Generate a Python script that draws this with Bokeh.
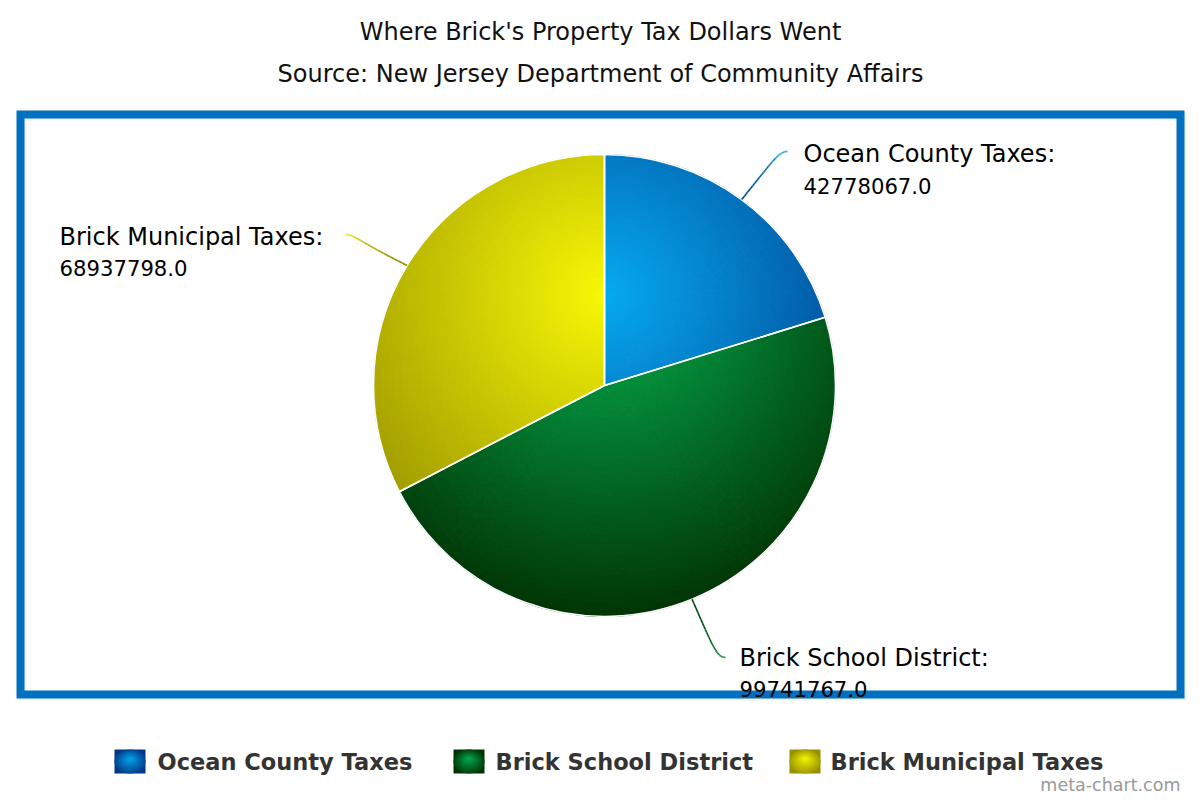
import math
import numpy as np
from bokeh.plotting import figure
from bokeh.models import Range1d
from bokeh.core.properties import value
from bokeh.embed import file_html
from bokeh.resources import INLINE

# ---------------- data ----------------
title_text = "Where Brick's Property Tax Dollars Went"
subtitle_text = "Source: New Jersey Department of Community Affairs"
categories = ["Ocean County Taxes", "Brick School District", "Brick Municipal Taxes"]
amounts = [42778067.0, 99741767.0, 68937798.0]
credit_text = "meta-chart.com"

# ---------------- styles ----------------
light_stops = [(5, 170, 240), (4, 176, 80), (248, 248, 5)]
dark_stops = [(0, 55, 135), (0, 52, 4), (150, 145, 0)]
FONT = value("DejaVu Sans")


def sy(y):
    """screen y (px from top of page) -> data y"""
    return 800 - y


def hexc(c):
    return "#%02x%02x%02x" % tuple(int(round(max(0, min(255, v)))) for v in c)


def lerp(a, b, t):
    return tuple(a[k] + (b[k] - a[k]) * t for k in range(3))


p = figure(width=1200, height=800, x_range=Range1d(0, 1200), y_range=Range1d(0, 800),
           output_backend="svg", toolbar_location=None, min_border=0,
           x_axis_location=None, y_axis_location=None)
p.grid.visible = False
p.outline_line_color = None
p.background_fill_color = "white"
p.border_fill_color = "white"

# ---------------- frame border ----------------
p.quad(left=[22], right=[1182], top=[sy(116)], bottom=[sy(696)], fill_color=None,
       line_color="#000000", line_alpha=0.06, line_width=8, line_join="miter")
p.quad(left=[20], right=[1180], top=[sy(114)], bottom=[sy(694)], fill_color=None,
       line_color="#0070C0", line_width=8, line_join="miter")

# ---------------- titles ----------------
p.text(x=[600], y=[sy(31)], text=[title_text], text_align="center", text_baseline="middle",
       text_font=FONT, text_font_size=value("24px"), text_color="#111111")
p.text(x=[600], y=[sy(73)], text=[subtitle_text], text_align="center", text_baseline="middle",
       text_font=FONT, text_font_size=value("24px"), text_color="#111111")

# ---------------- pie ----------------
cx, cy, R = 604.0, sy(385), 231.0
gx, gy = cx, cy + R - 0.3 * 2 * R  # radial gradient centre
grad_r = 0.7 * 2 * R

total = float(sum(amounts))
cum = np.concatenate([[0.0], np.cumsum(amounts)]) / total
bounds = math.pi / 2 - 2 * math.pi * cum  # clockwise from 12 o'clock

xs, ys, r0s, r1s, a0s, a1s, cols = [], [], [], [], [], [], []
n_r = 34
radii = np.linspace(0, R, n_r + 1)
for i in range(len(amounts)):
    a_start, a_end = bounds[i + 1], bounds[i]
    n_a = max(2, int(math.ceil((a_end - a_start) / math.radians(2.4))))
    angs = np.linspace(a_start, a_end, n_a + 1)
    for j in range(n_r):
        for k in range(n_a):
            rc = 0.5 * (radii[j] + radii[j + 1])
            ac = 0.5 * (angs[k] + angs[k + 1])
            px, py = cx + rc * math.cos(ac), cy + rc * math.sin(ac)
            t = min(1.0, math.hypot(px - gx, py - gy) / grad_r)
            xs.append(cx); ys.append(cy)
            r0s.append(radii[j]); r1s.append(radii[j + 1])
            a0s.append(angs[k]); a1s.append(angs[k + 1])
            cols.append(hexc(lerp(light_stops[i], dark_stops[i], t)))

p.annular_wedge(x=xs, y=ys, inner_radius=r0s, outer_radius=r1s, start_angle=a0s,
                end_angle=a1s, fill_color=cols, line_color=cols, line_width=1.0)

# slice outlines
p.wedge(x=[cx] * 3, y=[cy] * 3, radius=R, start_angle=list(bounds[1:]), end_angle=list(bounds[:-1]),
        fill_color=None, line_color="white", line_width=1.6)

# ---------------- data labels & connectors ----------------
label_layout = [
    dict(end=(787, 151), crook=(772, 161), ctrl=(778, 151), lx=803, ly=(153, 185)),
    dict(end=(725, 657), crook=(712, 645), ctrl=(716, 657), lx=739, ly=(657, 688)),
    dict(end=(345, 234), crook=(360, 242), ctrl=(354, 234), lx=59, ly=(236, 267)),
]
conn_light = [(25, 160, 230), (10, 125, 50), (225, 225, 10)]
conn_dark = [(0, 70, 140), (0, 70, 20), (140, 135, 0)]

for i, lay in enumerate(label_layout):
    mid = 0.5 * (bounds[i] + bounds[i + 1])
    P0 = np.array([cx + R * math.cos(mid), cy + R * math.sin(mid)])
    P1 = np.array([lay["crook"][0], sy(lay["crook"][1])], dtype=float)
    P2 = np.array([lay["ctrl"][0], sy(lay["ctrl"][1])], dtype=float)
    P3 = np.array([lay["end"][0], sy(lay["end"][1])], dtype=float)
    u = np.linspace(0, 1, 31)[:, None]
    pts = (1 - u) ** 3 * P0 + 3 * (1 - u) ** 2 * u * P1 + 3 * (1 - u) * u ** 2 * P2 + u ** 3 * P3
    seg_cols = [hexc(lerp(conn_dark[i], conn_light[i], min(1.0, 1.3 * q))) for q in np.linspace(0, 1, 30)]
    p.segment(x0=pts[:-1, 0], y0=pts[:-1, 1], x1=pts[1:, 0], y1=pts[1:, 1],
              line_color=seg_cols, line_width=1.6)
    p.text(x=[lay["lx"]], y=[sy(lay["ly"][0])], text=[categories[i] + ":"], text_align="left",
           text_baseline="middle", text_font=FONT, text_font_size=value("24px"), text_color="#000000")
    p.text(x=[lay["lx"]], y=[sy(lay["ly"][1])], text=["%.1f" % amounts[i]], text_align="left",
           text_baseline="middle", text_font=FONT, text_font_size=value("21.2px"), text_color="#000000")

# ---------------- legend ----------------
sym_left = [114, 453, 789]
txt_left = [157, 495, 830]
sym_w, sym_h = 31, 24
leg_y = 761
for i, name in enumerate(categories):
    scx = sym_left[i] + sym_w / 2
    scy = sy(leg_y)
    p.rect(x=[scx], y=[scy], width=sym_w, height=sym_h, fill_color=hexc(dark_stops[i]), line_color=None)
    n = 10
    for k in range(n):
        s = 1 - k / n
        p.ellipse(x=[scx], y=[scy + (1 - s) * 3], width=sym_w * s, height=sym_h * s,
                  fill_color=hexc(lerp(light_stops[i], dark_stops[i], 0.85 * s)), line_color=None)
    p.text(x=[txt_left[i]], y=[sy(leg_y)], text=[name], text_align="left", text_baseline="middle",
           text_font=FONT, text_font_style="bold", text_font_size=value("22.5px"), text_color="#333333")

p.text(x=[1180], y=[sy(784)], text=[credit_text], text_align="right", text_baseline="middle",
       text_font=FONT, text_font_size=value("17.5px"), text_color="#999999")

open("out.html", "w").write(file_html(p, INLINE))
